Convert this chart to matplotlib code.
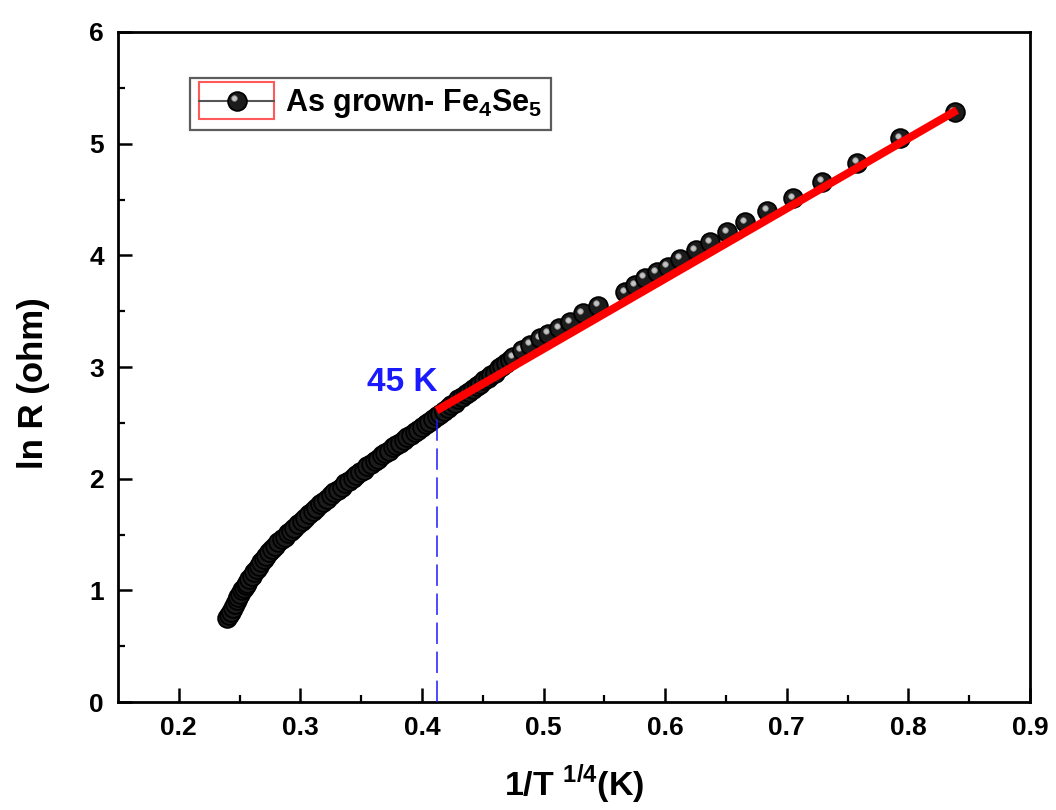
import matplotlib
matplotlib.use("Agg")
import matplotlib.pyplot as plt
from matplotlib.lines import Line2D
from matplotlib.patches import Rectangle
from matplotlib.legend_handler import HandlerBase
from matplotlib.transforms import ScaledTranslation

plt.rcParams['font.family'] = ['Liberation Sans', 'DejaVu Sans']
plt.rcParams['font.weight'] = 'bold'
plt.rcParams['mathtext.fontset'] = 'custom'
plt.rcParams['mathtext.bf'] = 'Liberation Sans:bold'
plt.rcParams['mathtext.rm'] = 'Liberation Sans:bold'

# ---- data ----
x_data = [0.2400, 0.2415, 0.2430, 0.2445, 0.2460, 0.2475, 0.2490, 0.2505, 0.2520,
          0.2535, 0.2550, 0.2565, 0.2580, 0.2600, 0.2620, 0.2640, 0.2660, 0.2680,
          0.2700, 0.2720, 0.2745, 0.2770, 0.2795, 0.2820, 0.2845, 0.2870, 0.2895,
          0.2920, 0.2950, 0.2980, 0.3010, 0.3040, 0.3070, 0.3100, 0.3130, 0.3160,
          0.3190, 0.3220, 0.3250, 0.3280, 0.3310, 0.3340, 0.3370, 0.3400, 0.3430,
          0.3460, 0.3490, 0.3520, 0.3550, 0.3580, 0.3610, 0.3640, 0.3670, 0.3700,
          0.3730, 0.3760, 0.3790, 0.3820, 0.3850, 0.3880, 0.3910, 0.3940, 0.3970,
          0.4000, 0.4030, 0.4060, 0.4090, 0.4120, 0.4150, 0.4180, 0.4210, 0.4240,
          0.4270, 0.4300, 0.4330, 0.4360, 0.4390, 0.4420, 0.4450, 0.4480, 0.4510,
          0.4540, 0.4570, 0.4600, 0.4630, 0.4660, 0.4690, 0.4720, 0.4750,
          0.482, 0.489, 0.497, 0.504, 0.513, 0.522, 0.532, 0.545, 0.567, 0.575,
          0.583, 0.593, 0.602, 0.612, 0.625, 0.637, 0.651, 0.666, 0.684, 0.705,
          0.729, 0.758, 0.793, 0.838]
y_data = [0.75, 0.78, 0.81, 0.84, 0.88, 0.91, 0.94, 0.97, 1.00,
          1.02, 1.05, 1.07, 1.10, 1.13, 1.16, 1.19, 1.22, 1.25,
          1.28, 1.31, 1.34, 1.37, 1.40, 1.43, 1.46, 1.48, 1.51,
          1.53, 1.56, 1.59, 1.62, 1.65, 1.68, 1.71, 1.74, 1.77,
          1.79, 1.82, 1.85, 1.88, 1.90, 1.93, 1.96, 1.98, 2.01,
          2.03, 2.06, 2.08, 2.11, 2.13, 2.16, 2.18, 2.21, 2.23,
          2.25, 2.28, 2.30, 2.32, 2.35, 2.37, 2.39, 2.42, 2.44,
          2.46, 2.49, 2.51, 2.53, 2.56, 2.58, 2.61, 2.63, 2.66,
          2.68, 2.71, 2.73, 2.76, 2.78, 2.80, 2.83, 2.85, 2.88,
          2.90, 2.93, 2.95, 2.99, 3.01, 3.04, 3.06, 3.09,
          3.15, 3.20, 3.26, 3.30, 3.35, 3.40, 3.48, 3.55, 3.67, 3.73,
          3.80, 3.85, 3.90, 3.97, 4.05, 4.12, 4.21, 4.30, 4.40, 4.51,
          4.66, 4.83, 5.05, 5.28]

fit_x = [0.412, 0.840]
fit_y = [2.61, 5.30]

mark_x = 0.412          # 45 K marker position
mark_y = [0.0, 2.60]
mark_label = "45 K"
series_label = r"As grown- Fe$_\mathbf{4}$Se$_\mathbf{5}$"

x_ticks = [0.2, 0.3, 0.4, 0.5, 0.6, 0.7, 0.8, 0.9]
y_ticks = [0, 1, 2, 3, 4, 5, 6]

MS = 13.5
HL_MS = 4

fig = plt.figure(figsize=(10.56, 8.10), dpi=100)
ax = fig.add_axes([0.1117, 0.1333, 0.8637, 0.8272])

hl_off = ScaledTranslation(-1.6 / 72, 1.6 / 72, fig.dpi_scale_trans)

# draw in increasing x so each new sphere covers the previous highlight
for xi, yi in sorted(zip(x_data, y_data), key=lambda p: p[0]):
    ax.plot([xi], [yi], 'o', ms=MS, mfc='#1c1c1c', mec='black', mew=1.3, zorder=2)
    ax.plot([xi], [yi], 'o', ms=HL_MS, mfc='#c4c4c4', mec='#8c8c8c', mew=0.6,
            zorder=2, transform=ax.transData + hl_off)

ax.plot(fit_x, fit_y, color='#ff0000', lw=5.8, solid_capstyle='butt', zorder=5)
ax.plot([mark_x, mark_x], mark_y, color='#1a1aff', lw=1.1,
        dashes=(14, 5), zorder=4)
ax.text(0.3836, 2.865, mark_label, color='#1a1aff', fontsize=24,
        fontweight='bold', ha='center', va='center')

ax.set_xlim(0.15, 0.9)
ax.set_ylim(0, 6)
ax.set_xticks(x_ticks)
ax.set_yticks(y_ticks)
ax.set_xticklabels([f"{v:.1f}" for v in x_ticks])
ax.set_yticklabels([str(v) for v in y_ticks])
ax.set_xticks([0.25, 0.35, 0.45, 0.55, 0.65, 0.75, 0.85], minor=True)
ax.set_yticks([0.5, 1.5, 2.5, 3.5, 4.5, 5.5], minor=True)
ax.tick_params(which='major', direction='in', length=10, width=1.8,
               labelsize=19, pad=10)
ax.tick_params(which='minor', direction='in', length=5, width=1.6)
for s in ax.spines.values():
    s.set_linewidth(2.0)

ax.set_xlabel(r"1/T $^{\mathbf{1/4}}$(K)", fontsize=24.5, fontweight='bold')
ax.set_ylabel("ln R (ohm)", fontsize=25, fontweight='bold')
ax.xaxis.set_label_coords(0.5, -0.090)
ax.yaxis.set_label_coords(-0.075, 0.476)


class SphereHandler(HandlerBase):
    def create_artists(self, legend, orig_handle, xdescent, ydescent,
                       width, height, fontsize, trans):
        cx = width / 2 - xdescent
        cy = height / 2 - ydescent
        rect = Rectangle((-xdescent, cy - 13.5), width, 27, fill=False,
                         ec='#ff5a5a', lw=1.5, transform=trans)
        line = Line2D([-xdescent, -xdescent + width], [cy, cy],
                      color='#555555', lw=1.5, transform=trans)
        mk = Line2D([cx], [cy], marker='o', ms=MS, mfc='#1c1c1c', mec='black',
                    mew=1.3, ls='none', transform=trans)
        hl = Line2D([cx], [cy], marker='o', ms=HL_MS, mfc='#c4c4c4',
                    mec='#8c8c8c', mew=0.6, ls='none',
                    transform=trans + ScaledTranslation(-1.6 / 72, 1.6 / 72,
                                                        fig.dpi_scale_trans))
        return [rect, line, mk, hl]


handle = Line2D([], [], marker='o')
leg = ax.legend([handle], [series_label], handler_map={Line2D: SphereHandler()},
                loc='upper left', bbox_to_anchor=(0.079, 0.931),
                fontsize=22, frameon=True, fancybox=False, edgecolor='#333333',
                handlelength=2.45, handletextpad=0.35, borderpad=0.3,
                borderaxespad=0)
leg.get_frame().set_linewidth(1.6)

fig.savefig("out.png", dpi=100)
